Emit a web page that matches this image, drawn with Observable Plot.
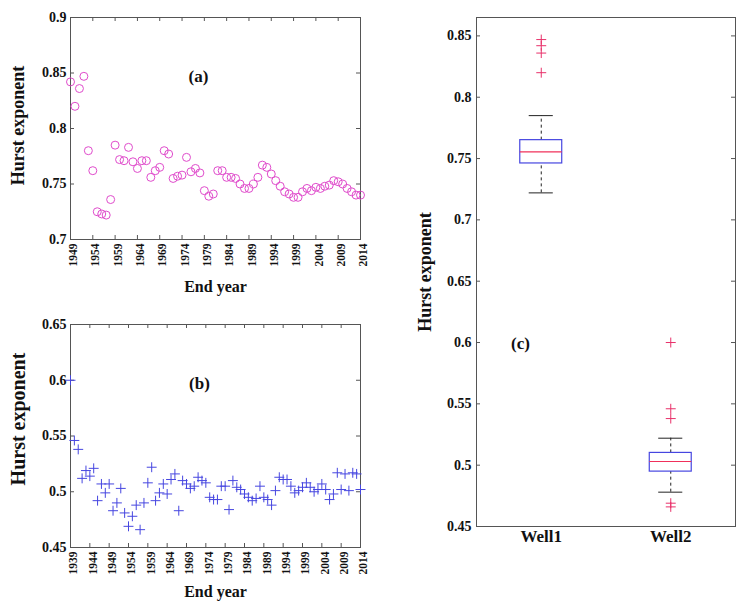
<!DOCTYPE html>
<html>
<head>
<meta charset="utf-8">
<script src="https://cdn.jsdelivr.net/npm/d3@7"></script>
<script src="https://cdn.jsdelivr.net/npm/@observablehq/plot@0.6"></script>
<style>
  html, body { margin: 0; padding: 0; background: #fff; }
  #wrap { position: relative; width: 738px; height: 601px; background: #fff; overflow: hidden; }
  #wrap > div { position: absolute; }
  svg { overflow: visible; }
</style>
</head>
<body>
<div id="wrap">
  <div id="pa" style="left:0;top:0"></div>
  <div id="pb" style="left:0;top:300px"></div>
  <div id="pc" style="left:400px;top:0"></div>
</div>
<script>
// ---------- data ----------
const startYearA = 1949;   // panel (a): Well1, end years 1949..2014
const hurstA = [
  0.842,0.820,0.836,0.847,0.780,0.762,0.725,0.723,0.722,0.736,
  0.785,0.772,0.771,0.783,0.770,0.764,0.771,0.771,0.756,0.762,
  0.765,0.780,0.777,0.755,0.757,0.758,0.774,0.761,0.764,0.760,
  0.744,0.739,0.741,0.762,0.762,0.756,0.756,0.755,0.750,0.746,
  0.746,0.750,0.756,0.767,0.765,0.759,0.753,0.748,0.743,0.741,
  0.738,0.738,0.743,0.746,0.744,0.747,0.746,0.748,0.749,0.753,
  0.752,0.750,0.746,0.743,0.740,0.740
];
const startYearB = 1939;   // panel (b): Well2, end years 1939..2014
const hurstB = [
  0.600,0.546,0.538,0.512,0.519,0.514,0.521,0.492,0.507,0.499,
  0.507,0.483,0.490,0.503,0.481,0.469,0.478,0.488,0.466,0.490,
  0.508,0.522,0.492,0.499,0.507,0.498,0.511,0.516,0.483,0.510,
  0.507,0.503,0.505,0.513,0.510,0.508,0.495,0.493,0.493,0.505,
  0.505,0.484,0.510,0.504,0.502,0.498,0.495,0.492,0.494,0.505,
  0.495,0.493,0.488,0.501,0.513,0.511,0.511,0.505,0.499,0.501,
  0.504,0.508,0.504,0.500,0.502,0.507,0.502,0.493,0.498,0.517,
  0.502,0.516,0.501,0.517,0.516,0.502
];
const wells = ["Well1", "Well2"];

const aXTicks = [1949,1954,1959,1964,1969,1974,1979,1984,1989,1994,1999,2004,2009,2014];
const aYTicks = [0.7,0.75,0.8,0.85,0.9];
const bXTicks = [1939,1944,1949,1954,1959,1964,1969,1974,1979,1984,1989,1994,1999,2004,2009,2014];
const bYTicks = [0.45,0.5,0.55,0.6,0.65];
const cYTicks = [0.45,0.5,0.55,0.6,0.65,0.7,0.75,0.8,0.85];

// ---------- helpers ----------
const FONT = "Liberation Serif, Times New Roman, serif";
const AX = "#555";
const INK = "#111";
const fmt = d3.format("~g");
const rowsA = hurstA.map((h, i) => ({year: startYearA + i, h}));
const rowsB = hurstB.map((h, i) => ({year: startYearB + i, h}));

function inwardTicks(xTicks, yTicks, fw, fh, sides) {
  const L = 4, marks = [];
  if (sides.includes("l")) marks.push(Plot.tickY(yTicks, {y: d => d, insetRight: fw - L, stroke: AX}));
  if (sides.includes("r")) marks.push(Plot.tickY(yTicks, {y: d => d, insetLeft: fw - L, stroke: AX}));
  if (xTicks && sides.includes("t")) marks.push(Plot.tickX(xTicks, {x: d => d, insetBottom: fh - L, stroke: AX}));
  if (xTicks && sides.includes("b")) marks.push(Plot.tickX(xTicks, {x: d => d, insetTop: fh - L, stroke: AX}));
  return marks;
}

const centered = {textAnchor: "middle", lineAnchor: "middle", fill: INK};

function timePanel({rows, xDomain, yDomain, xTicks, yTicks, W, H, m, dotOpts, tag, tagDx, tagDy, yLabDy, yLabSize, xLabDy}) {
  const fw = W - m.left - m.right, fh = H - m.top - m.bottom;
  return Plot.plot({
    width: W, height: H,
    marginLeft: m.left, marginRight: m.right, marginTop: m.top, marginBottom: m.bottom,
    style: {fontFamily: FONT, fontWeight: "bold", fontSize: "14px", background: "transparent", color: INK},
    x: {domain: xDomain},
    y: {domain: yDomain},
    marks: [
      Plot.frame({stroke: AX}),
      ...inwardTicks(xTicks, yTicks, fw, fh, "lrtb"),
      Plot.axisY({ticks: yTicks, tickSize: 0, tickPadding: 4, tickFormat: fmt, label: null, fontSize: 14, fill: INK}),
      Plot.axisX({ticks: xTicks, tickSize: 0, tickPadding: 4, tickRotate: -90, tickFormat: d => String(d), label: null, fontSize: 11.5, dx: 3, fill: INK}),
      Plot.dot(rows, {x: "year", y: "h", ...dotOpts}),
      Plot.text([tag], {frameAnchor: "top-left", dx: tagDx, dy: tagDy, fontSize: 17, ...centered}),
      Plot.text(["Hurst exponent"], {frameAnchor: "left", dx: -52, dy: yLabDy, rotate: -90, fontSize: yLabSize, ...centered}),
      Plot.text(["End year"], {frameAnchor: "bottom", dy: xLabDy, fontSize: 16, ...centered})
    ]
  });
}

// ---------- panel (a) ----------
document.getElementById("pa").append(timePanel({
  rows: rowsA, xDomain: [1949, 2014], yDomain: [0.7, 0.9], xTicks: aXTicks, yTicks: aYTicks,
  W: 380, H: 300, m: {left: 70, right: 20, top: 17, bottom: 61},
  dotOpts: {r: 4, stroke: "#e04ccc", strokeWidth: 1, fill: "none"},
  tag: "(a)", tagDx: 128, tagDy: 59, yLabDy: -3, yLabSize: 18, xLabDy: 47
}));

// ---------- panel (b) ----------
document.getElementById("pb").append(timePanel({
  rows: rowsB, xDomain: [1939, 2014], yDomain: [0.45, 0.65], xTicks: bXTicks, yTicks: bYTicks,
  W: 380, H: 301, m: {left: 70, right: 20, top: 24, bottom: 54},
  dotOpts: {r: 3.3, symbol: "plus", stroke: "#4646e0", strokeWidth: 1, fill: "none"},
  tag: "(b)", tagDx: 129, tagDy: 59, yLabDy: -17, yLabSize: 20, xLabDy: 44
}));

// ---------- panel (c): box plots computed from the two series ----------
function boxStats(values, pos, name) {
  const s = values.slice().sort(d3.ascending);
  const q1 = d3.quantileSorted(s, 0.25), med = d3.quantileSorted(s, 0.5), q3 = d3.quantileSorted(s, 0.75);
  const iqr = q3 - q1, lo = q1 - 1.5 * iqr, hi = q3 + 1.5 * iqr;
  const inside = s.filter(v => v >= lo && v <= hi);
  return {pos, name, q1, med, q3, wlo: d3.min(inside), whi: d3.max(inside),
          out: s.filter(v => v < lo || v > hi)};
}
const boxes = [boxStats(hurstA, 1, wells[0]), boxStats(hurstB, 2, wells[1])];
const outliers = boxes.flatMap(b => b.out.map(v => ({pos: b.pos, v})));
const BW = 0.162, CW = 0.093;

(function () {
  const W = 338, H = 601, m = {left: 76, right: 3, top: 17, bottom: 75};
  const fw = W - m.left - m.right, fh = H - m.top - m.bottom;
  const chart = Plot.plot({
    width: W, height: H,
    marginLeft: m.left, marginRight: m.right, marginTop: m.top, marginBottom: m.bottom,
    style: {fontFamily: FONT, fontWeight: "bold", fontSize: "14px", background: "transparent", color: INK},
    x: {domain: [0.5, 2.5]},
    y: {domain: [0.45, 0.865]},
    marks: [
      Plot.frame({stroke: AX}),
      ...inwardTicks(null, cYTicks, fw, fh, "lr"),
      Plot.axisY({ticks: cYTicks, tickSize: 0, tickPadding: 5, tickFormat: fmt, label: null, fontSize: 14, fill: INK}),
      Plot.axisX({ticks: [1, 2], tickSize: 0, tickPadding: 3, tickFormat: d => wells[d - 1], label: null, fontSize: 17, fill: INK}),
      // whiskers (dashed)
      Plot.ruleX(boxes, {x: "pos", y1: "q3", y2: "whi", stroke: "#222", strokeDasharray: "3,3"}),
      Plot.ruleX(boxes, {x: "pos", y1: "wlo", y2: "q1", stroke: "#222", strokeDasharray: "3,3"}),
      // whisker caps
      Plot.ruleY(boxes, {y: "whi", x1: d => d.pos - CW, x2: d => d.pos + CW, stroke: "#222"}),
      Plot.ruleY(boxes, {y: "wlo", x1: d => d.pos - CW, x2: d => d.pos + CW, stroke: "#222"}),
      // box
      Plot.rect(boxes, {x1: d => d.pos - BW, x2: d => d.pos + BW, y1: "q1", y2: "q3", fill: "none", stroke: "#4646e0", strokeWidth: 1.2}),
      // median
      Plot.ruleY(boxes, {y: "med", x1: d => d.pos - BW, x2: d => d.pos + BW, stroke: "#f0305a", strokeWidth: 1.2}),
      // outliers
      Plot.dot(outliers, {x: "pos", y: "v", symbol: "plus", r: 3.3, stroke: "#e8306a", strokeWidth: 1}),
      Plot.text(["(c)"], {frameAnchor: "top-left", dx: 44, dy: 326, fontSize: 17, ...centered}),
      Plot.text(["Hurst exponent"], {frameAnchor: "left", dx: -51, rotate: -90, fontSize: 18, ...centered})
    ]
  });
  document.getElementById("pc").append(chart);
})();
</script>
</body>
</html>
